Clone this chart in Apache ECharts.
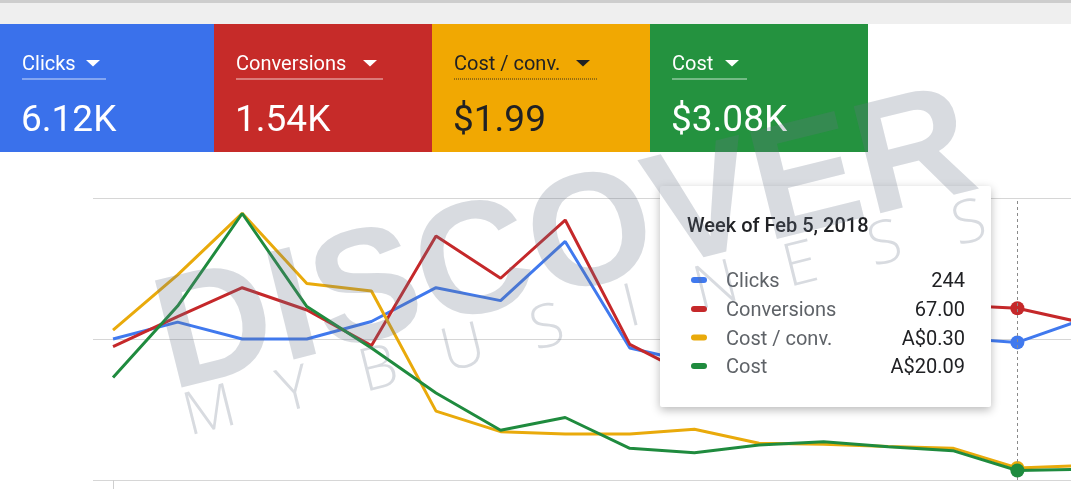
<!DOCTYPE html>
<html>
<head>
<meta charset="utf-8">
<script src="https://cdn.jsdelivr.net/npm/echarts@6/dist/echarts.min.js"></script>
<style>
html,body{margin:0;padding:0;background:#ffffff;}
#chart{width:1071px;height:498px;}
</style>
</head>
<body>
<div id="chart"></div>
<script>
// ---------- DATA ----------
const weeks = ['Oct 30, 2017','Nov 6, 2017','Nov 13, 2017','Nov 20, 2017','Nov 27, 2017','Dec 4, 2017','Dec 11, 2017','Dec 18, 2017','Dec 25, 2017','Jan 1, 2018','Jan 8, 2018','Jan 15, 2018','Jan 22, 2018','Jan 29, 2018','Feb 5, 2018','Feb 12, 2018'];
const clicks      = [250, 280, 250, 250, 281, 341, 318, 423, 234, 208, 230, 245, 240, 252, 244, 284];
const conversions = [52.0, 63.7, 75.0, 66.3, 52.4, 95.2, 78.7, 101.4, 52.9, 40.0, 52.0, 60.0, 58.0, 68.3, 67.0, 61.4];
const costPerConv = [3.72, 5.09, 6.62, 4.88, 4.69, 1.71, 1.20, 1.14, 1.14, 1.26, 0.91, 0.89, 0.83, 0.79, 0.30, 0.36];
const cost        = [218, 370, 567, 369, 281, 185, 106, 133, 67.5, 58.1, 74.5, 81.5, 70.9, 62.4, 20.09, 23];
const metricNames = ['Clicks', 'Conversions', 'Cost / conv.', 'Cost'];
const metricTotals = ['6.12K', '1.54K', '$1.99', '$3.08K'];
const axisMax = [500, 110, 7, 600];
const hoverIndex = 14;

// ---------- STYLE ----------
const tileColors = ['#3a71eb', '#c62b29', '#f1a802', '#24923f'];
const tileText = ['#ffffff', '#ffffff', '#202124', '#ffffff'];
const lineColors = ['#4079ee', '#c5282a', '#e9aa0b', '#1f8b3e'];
const FONT = 'Roboto, "Noto Sans", sans-serif';

const seriesValues = [clicks, conversions, costPerConv, cost];
const formatters = [
  v => String(Math.round(v)),
  v => v.toFixed(2),
  v => 'A$' + v.toFixed(2),
  v => 'A$' + v.toFixed(2)
];

const chart = echarts.init(document.getElementById('chart'));

const series = seriesValues.map((vals, s) => {
  const o = {
    name: metricNames[s],
    type: 'line',
    yAxisIndex: s,
    symbol: 'none',
    animation: false,
    silent: true,
    clip: true,
    z: 2 + s,
    lineStyle: { color: lineColors[s], width: 3 },
    itemStyle: { color: lineColors[s] },
    data: vals.map((v, i) => i === hoverIndex
      ? { value: [i, v], symbol: 'circle', symbolSize: 14, itemStyle: { color: lineColors[s] } }
      : [i, v])
  };
  if (s === 0) {
    o.markLine = {
      silent: true, symbol: 'none', animation: false,
      label: { show: false },
      lineStyle: { color: '#8a8a8a', width: 1, type: [3, 3] },
      data: [{ xAxis: hoverIndex }]
    };
  }
  return o;
});

// ---------- GRAPHICS (tiles, tooltip, watermark) ----------
const graphics = [];
graphics.push({ type: 'rect', shape: { x: 0, y: 0, width: 1071, height: 24 }, style: { fill: '#efefef' }, z: 1 });
graphics.push({ type: 'rect', shape: { x: 0, y: 0, width: 1071, height: 3 }, style: { fill: '#cdcdcd' }, z: 1 });

const tileX = [0, 214, 432, 650];
const tileW = 218;
const underlineEnd = [106, 383, 597, 747];
const arrowX = [86, 363, 576, 725];
for (let t = 0; t < 4; t++) {
  const x0 = tileX[t];
  graphics.push({ type: 'rect', shape: { x: x0, y: 24, width: (t === 0 ? 214 : tileW), height: 128 }, style: { fill: tileColors[t] }, z: 2 });
  graphics.push({ type: 'text', x: x0 + 22, y: 64.5, z: 3,
    style: { text: metricNames[t], fill: tileText[t], font: '20px ' + FONT, textAlign: 'left', textVerticalAlign: 'middle', align: 'left', verticalAlign: 'middle' } });
  graphics.push({ type: 'polygon', z: 3, shape: { points: [[arrowX[t], 60], [arrowX[t] + 14, 60], [arrowX[t] + 7, 66.5]] }, style: { fill: tileText[t] } });
  graphics.push({ type: 'line', z: 3, shape: { x1: x0 + 22, y1: 79, x2: underlineEnd[t], y2: 79 },
    style: t === 2
      ? { stroke: '#3a3320', lineWidth: 1, lineDash: [1, 1] }
      : { stroke: 'rgba(255,255,255,0.75)', lineWidth: 1 } });
  graphics.push({ type: 'text', x: x0 + 21, y: 122, z: 3,
    style: { text: metricTotals[t], fill: tileText[t], font: '37px ' + FONT, textAlign: 'left', textVerticalAlign: 'middle', align: 'left', verticalAlign: 'middle' } });
}

// tooltip box
graphics.push({ type: 'rect', z: 50, shape: { x: 660, y: 186, width: 331, height: 221, r: 2 },
  style: { fill: '#ffffff', shadowBlur: 10, shadowOffsetY: 3, shadowColor: 'rgba(0,0,0,0.28)' } });
graphics.push({ type: 'text', x: 687, y: 227, z: 51,
  style: { text: 'Week of ' + weeks[hoverIndex], fill: '#202124', font: '500 20px ' + FONT, textAlign: 'left', textVerticalAlign: 'middle', align: 'left', verticalAlign: 'middle' } });
const rowY = [280, 309, 337.5, 366];
for (let s = 0; s < 4; s++) {
  graphics.push({ type: 'rect', z: 51, shape: { x: 691, y: rowY[s] - 3, width: 16, height: 6, r: 3 }, style: { fill: lineColors[s] } });
  graphics.push({ type: 'text', x: 726, y: rowY[s] + 2, z: 51,
    style: { text: metricNames[s], fill: '#5f6368', font: '20px ' + FONT, textAlign: 'left', textVerticalAlign: 'middle', align: 'left', verticalAlign: 'middle' } });
  graphics.push({ type: 'text', x: 965, y: rowY[s] + 2, z: 51,
    style: { text: formatters[s](seriesValues[s][hoverIndex]), fill: '#202124', font: '20px ' + FONT, textAlign: 'right', textVerticalAlign: 'middle', align: 'right', verticalAlign: 'middle' } });
}

// watermark
const wmRot = 14 * Math.PI / 180;
graphics.push({ type: 'text', x: 566, y: 246, rotation: wmRot, z: 100,
  style: { text: 'DISCOVER', fill: 'rgba(105,115,135,0.26)', font: 'bold 160px "Liberation Sans", Arial, sans-serif', textAlign: 'center', textVerticalAlign: 'middle', align: 'center', verticalAlign: 'middle' } });
const sub = 'MYBUSINESS'.split('');
sub.forEach((ch, k) => {
  graphics.push({ type: 'text', x: 210 + 84.4 * k, y: 413 - 20.9 * k, rotation: wmRot, z: 100,
    style: { text: ch, fill: 'rgba(105,115,135,0.26)', font: '300 60px "Open Sans", Lato, sans-serif', textAlign: 'center', textVerticalAlign: 'middle', align: 'center', verticalAlign: 'middle' } });
});

const option = {
  backgroundColor: '#ffffff',
  animation: false,
  grid: { left: 93, right: 0, top: 198, bottom: 18, containLabel: false },
  xAxis: {
    type: 'value', min: -0.31, max: 14.83,
    axisLine: { show: false }, splitLine: { show: false }, axisLabel: { show: false },
    axisTick: { show: true, customValues: [0], length: 9, lineStyle: { color: '#cfcfcf' } }
  },
  yAxis: axisMax.map((m, s) => s === 0 ? {
    type: 'value', min: 0, max: m, interval: m / 2,
    axisLine: { show: false }, axisTick: { show: false }, axisLabel: { show: false },
    splitLine: { show: true, lineStyle: { color: '#d6d6d6', width: 1 } }
  } : { type: 'value', min: 0, max: m, show: false }),
  series: series,
  graphic: { elements: graphics }
};
chart.setOption(option);
</script>
</body>
</html>
